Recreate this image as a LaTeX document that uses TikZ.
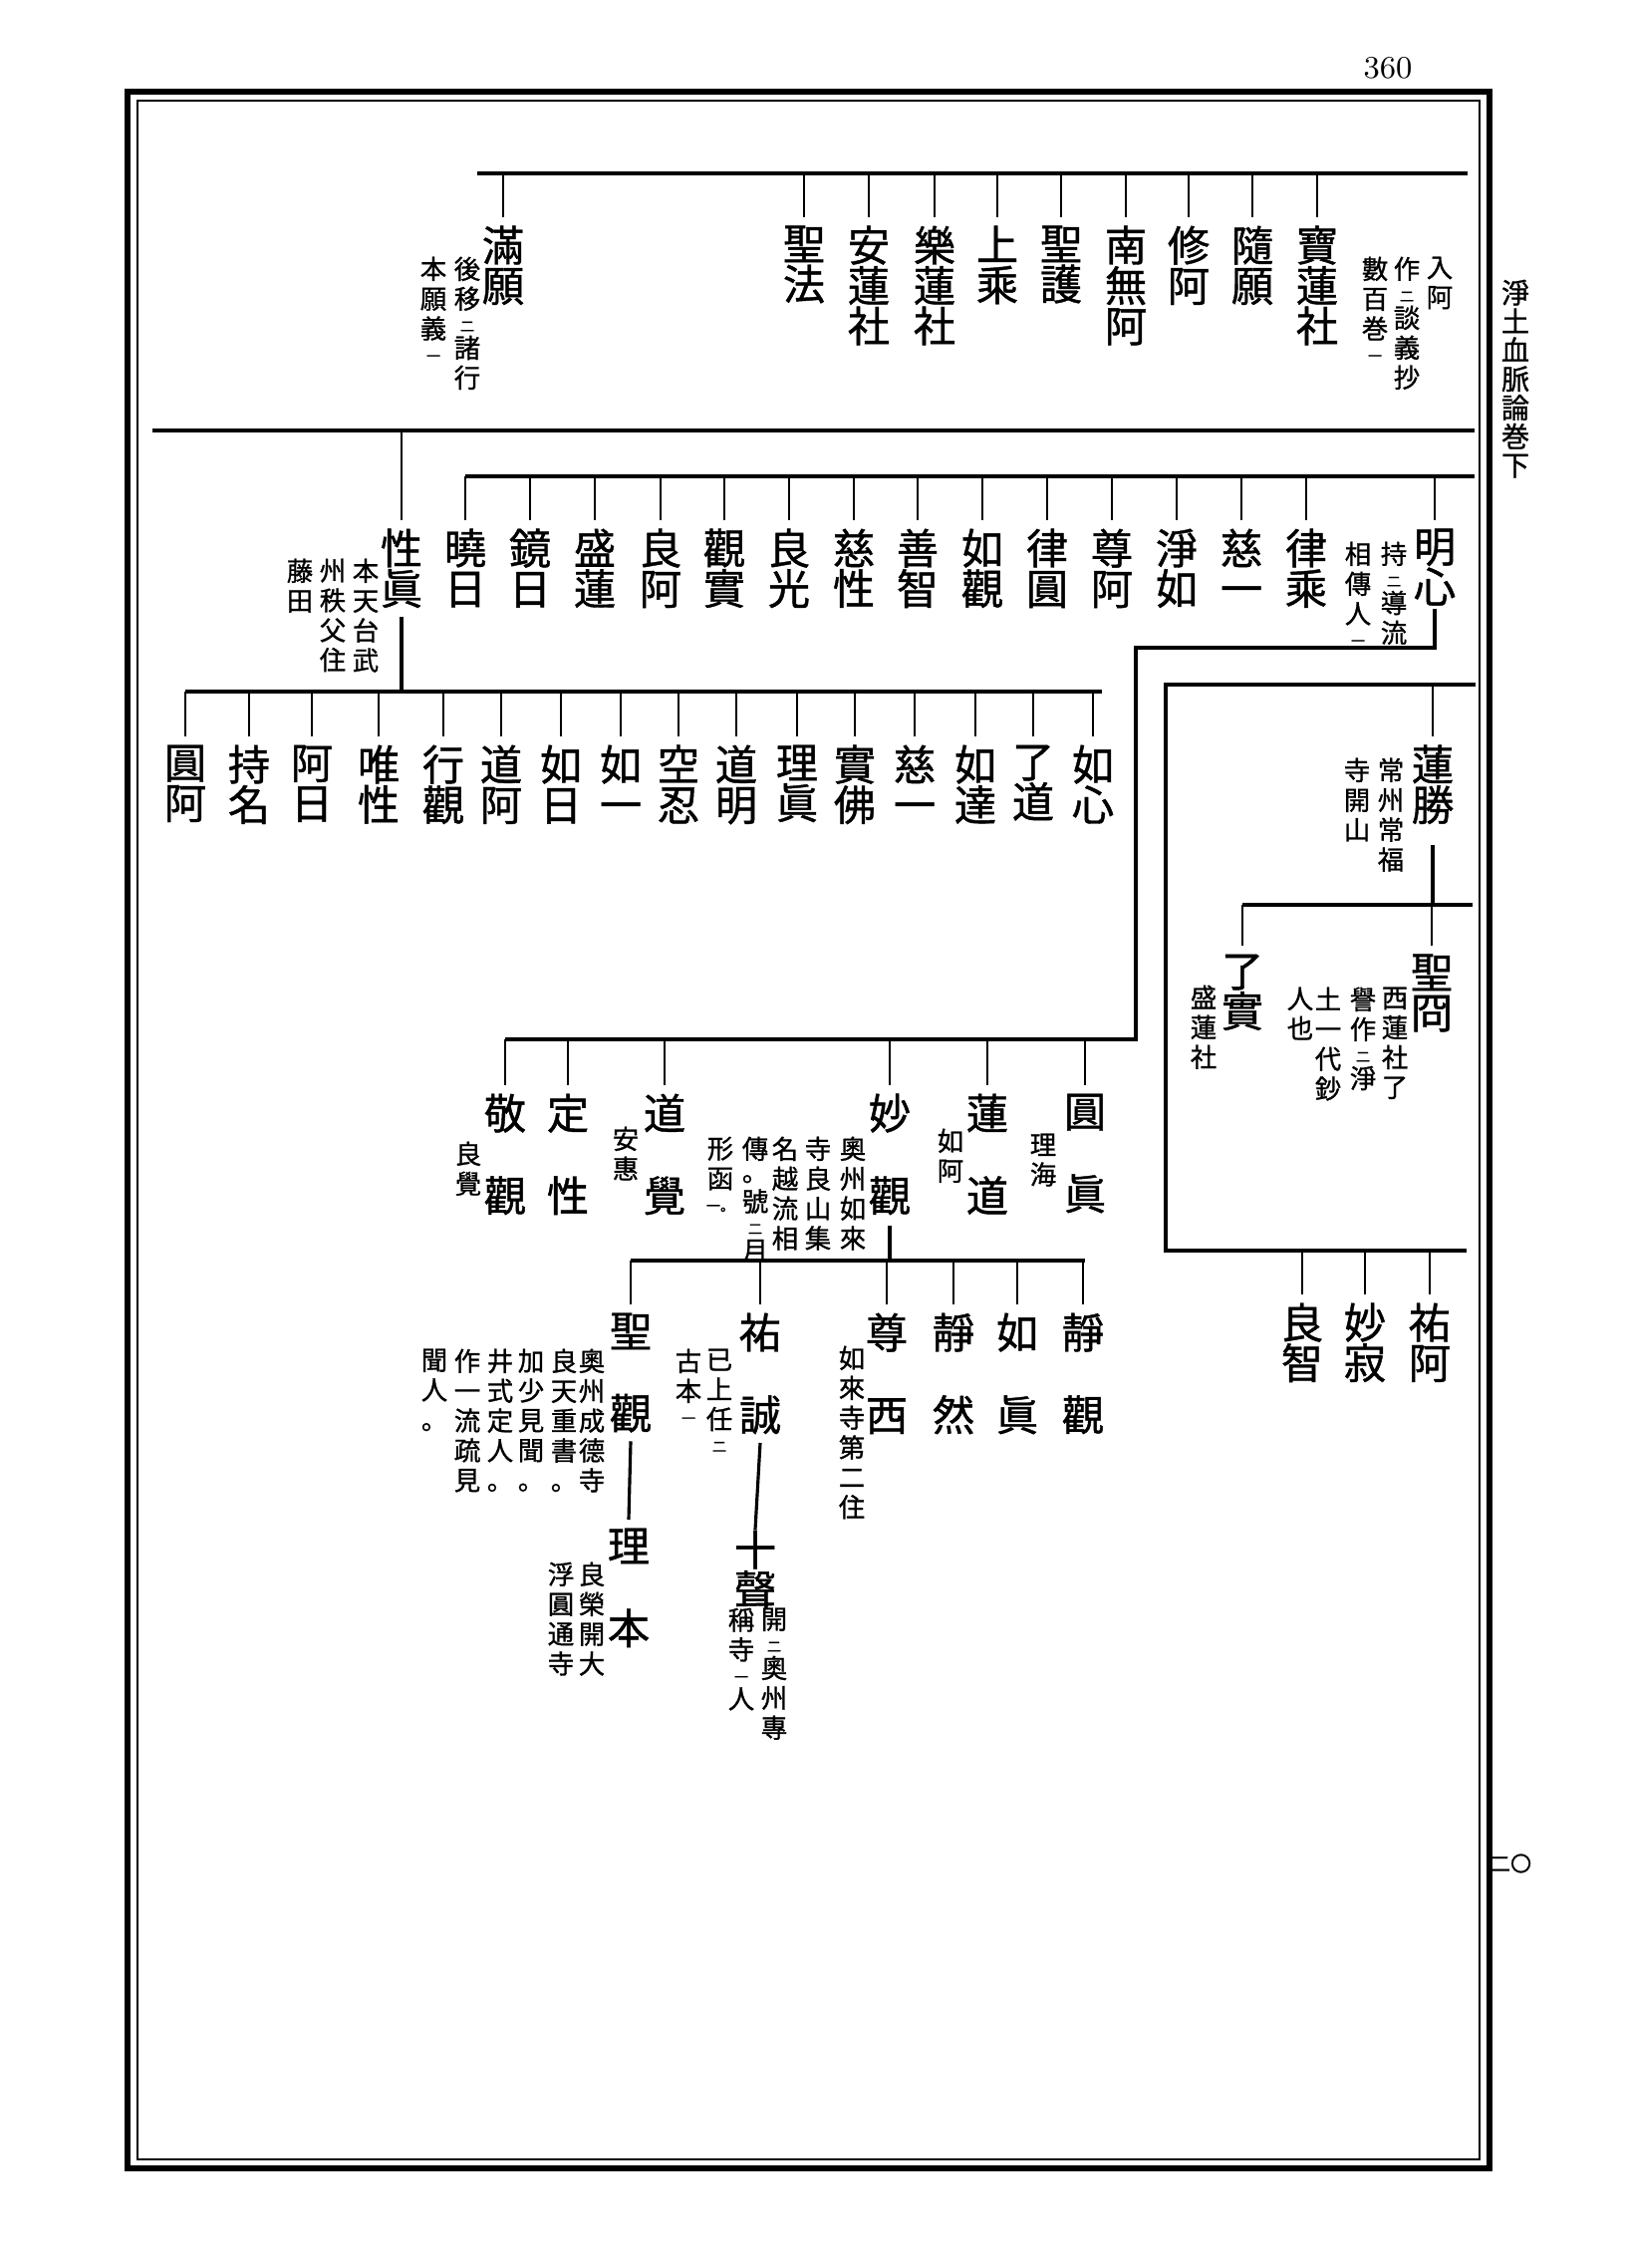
\documentclass[tikz,border=0pt]{standalone}
\usepackage{fontspec}
\usepackage{tikz}
\usetikzlibrary{positioning}
\newfontfamily\jp{Noto Sans CJK JP}[FakeBold=1]
\newcommand{\kt}[1]{{\fontsize{4}{4}\selectfont #1}}

\begin{document}
\begin{tikzpicture}[x=0.01cm, y=-0.01cm,
    nm/.style={font=\jp\fontsize{12}{11.5}\selectfont, align=center, inner sep=0pt, anchor=north},
    nt/.style={font=\jp\fontsize{7.5}{8.5}\selectfont, align=center, inner sep=0pt, anchor=north},
    ln/.style={line width=0.9pt},
    tk/.style={line width=0.7pt}]
\useasboundingbox (0,0) rectangle (1631,2276);
% frame and page marks
\draw[line width=1.5pt] (128,92) rectangle (1495,2176);
\draw[line width=0.5pt] (138,101) rectangle (1485,2167);
\node[inner sep=0pt, font=\fontsize{9}{9}\selectfont] (pg) at (1393,68) {360};
\node[nt, font=\jp\fontsize{8}{8.2}\selectfont] (ti) at (1521,280) {淨\\土\\血\\脈\\論\\巻\\下};
\node[inner sep=0pt, font=\jp\fontsize{6}{6}\selectfont] (no) at (1516,1870) {二〇};

\coordinate (L1) at (0,174);
\coordinate (L2) at (0,432);
\coordinate (L3) at (0,478);
\coordinate (L4) at (0,694);
\coordinate (L6) at (0,1043);
\coordinate (L7) at (0,908);
\coordinate (L8) at (0,1265);
\coordinate (M1) at (1140,650);
\coordinate (K1) at (1170,687);
\coordinate (K2) at (1170,1255);

% row 1
\node[nm] (a1) at (505,226) {滿\\願};
\node[nm] (a2) at (807,226) {聖\\法};
\node[nm] (a3) at (872,226) {安\\蓮\\社};
\node[nm] (a4) at (938,226) {樂\\蓮\\社};
\node[nm] (a5) at (1001,226) {上\\乘};
\node[nm] (a6) at (1065,226) {聖\\護};
\node[nm] (a7) at (1130,226) {南\\無\\阿};
\node[nm] (a8) at (1193,226) {修\\阿};
\node[nm] (a9) at (1257,226) {隨\\願};
\node[nm] (a10) at (1322,226) {寶\\蓮\\社};
\node[nt] (a1n1) at (469,257) {後\\移\\[-2pt]\kt{二}\\[-1pt]諸\\行};
\node[nt] (a1n2) at (435,257) {本\\願\\義\\[-2pt]\kt{一}};
\node[nt] (a10n1) at (1445,257) {入\\阿};
\node[nt] (a10n2) at (1412,257) {作\\[-2pt]\kt{二}\\[-1pt]談\\義\\抄};
\node[nt] (a10n3) at (1380,257) {數\\百\\巻\\[-2pt]\kt{一}};
\draw[ln] (479,174) -- (1473,174);
\foreach \n in {a1,a2,a3,a4,a5,a6,a7,a8,a9,a10}
  \draw[tk] (\n.north |- L1) -- ([yshift=0.08cm]\n.north);

% row 2
\draw[ln] (153,432) -- (1480,432);
\node[nm] (b0) at (403,530) {性\\眞};
\node[nt] (b0n1) at (367,560) {本\\天\\台\\武};
\node[nt] (b0n2) at (334,560) {州\\秩\\父\\住};
\node[nt] (b0n3) at (301,560) {藤\\田};
\draw[tk] (b0.north |- L2) -- ([yshift=0.08cm]b0.north);
\node[nm] (b1) at (467,530) {曉\\日};
\node[nm] (b2) at (532,530) {鏡\\日};
\node[nm] (b3) at (597,530) {盛\\蓮};
\node[nm] (b4) at (663,530) {良\\阿};
\node[nm] (b5) at (727,530) {觀\\實};
\node[nm] (b6) at (792,530) {良\\光};
\node[nm] (b7) at (857,530) {慈\\性};
\node[nm] (b8) at (921,530) {善\\智};
\node[nm] (b9) at (986,530) {如\\觀};
\node[nm] (b10) at (1051,530) {律\\圓};
\node[nm] (b11) at (1116,530) {尊\\阿};
\node[nm] (b12) at (1181,530) {淨\\如};
\node[nm] (b13) at (1246,530) {慈\\一};
\node[nm] (b14) at (1311,530) {律\\乘};
\node[nm] (b15) at (1440,530) {明\\心};
\node[nt] (b15n1) at (1399,543) {持\\[-2pt]\kt{二}\\[-1pt]導\\流};
\node[nt] (b15n2) at (1363,543) {相\\傳\\人\\[-2pt]\kt{一}};
\draw[ln] (b1.north |- L3) -- (1480,478);
\foreach \n in {b1,b2,b3,b4,b5,b6,b7,b8,b9,b10,b11,b12,b13,b14,b15}
  \draw[tk] (\n.north |- L3) -- ([yshift=0.08cm]\n.north);

% row 3
\node[nm] (c1) at (186,747) {圓\\阿};
\node[nm] (c2) at (250,747) {持\\名};
\node[nm] (c3) at (313,747) {阿\\日};
\node[nm] (c4) at (380,747) {唯\\性};
\node[nm] (c5) at (445,747) {行\\觀};
\node[nm] (c6) at (503,747) {道\\阿};
\node[nm] (c7) at (563,747) {如\\日};
\node[nm] (c8) at (623,747) {如\\一};
\node[nm] (c9) at (681,747) {空\\忍};
\node[nm] (c10) at (739,747) {道\\明};
\node[nm] (c11) at (800,747) {理\\眞};
\node[nm] (c12) at (858,747) {實\\佛};
\node[nm] (c13) at (918,747) {慈\\一};
\node[nm] (c14) at (979,747) {如\\達};
\node[nm] (c15) at (1037,747) {了\\道};
\node[nm] (c16) at (1097,747) {如\\心};
\draw[ln] ([yshift=-0.08cm]b0.south) -- (b0.south |- L4);
\draw[ln] (c1.north |- L4) -- (1106,694);
\foreach \n in {c1,c2,c3,c4,c5,c6,c7,c8,c9,c10,c11,c12,c13,c14,c15,c16}
  \draw[tk] (\n.north |- L4) -- ([yshift=0.08cm]\n.north);

% right bracket
\draw[ln] (1481,687) -- (K1) -- (K2) -- (1472,1255);
\node[nm] (f1) at (1438,747) {蓮\\勝};
\node[nt] (f1n1) at (1396,760) {常\\州\\常\\福};
\node[nt] (f1n2) at (1362,760) {寺\\開\\山};
\draw[tk] (f1.north |- K1) -- ([yshift=0.08cm]f1.north);
\node[nm] (g1) at (1437,957) {聖\\冏};
\node[nm] (g2) at (1247,957) {了\\實};
\node[nt] (g1n1) at (1400,990) {西\\蓮\\社\\了};
\node[nt] (g1n2) at (1368,990) {譽\\作\\[-2pt]\kt{二}\\[-1pt]淨};
\node[nt] (g1n3) at (1333,990) {土\\一\\代\\鈔};
\node[nt] (g1n4) at (1305,990) {人\\也};
\node[nt] (g2n1) at (1208,988) {盛\\蓮\\社};
\draw[ln] ([yshift=-0.2cm]f1.south) -- (f1.south |- L7);
\draw[ln] (g2.north |- L7) -- (1478,908);
\foreach \n in {g1,g2}
  \draw[tk] (\n.north |- L7) -- ([yshift=0.08cm]\n.north);
\node[nm] (h1) at (1307,1307) {良\\智};
\node[nm] (h2) at (1370,1307) {妙\\寂};
\node[nm] (h3) at (1435,1307) {祐\\阿};
\foreach \n in {h1,h2,h3}
  \draw[tk] (\n.north |- K2) -- ([yshift=0.08cm]\n.north);

% row 4
\node[nm] (d1) at (507,1097) {敬\\[12pt]觀};
\node[nm] (d2) at (570,1097) {定\\[12pt]性};
\node[nm] (d3) at (667,1097) {道\\[12pt]覺};
\node[nm] (d4) at (893,1097) {妙\\[12pt]觀};
\node[nm] (d5) at (991,1097) {蓮\\[12pt]道};
\node[nm] (d6) at (1089,1097) {圓\\[12pt]眞};
\node[nt] (d1n) at (470,1145) {良\\覺};
\node[nt] (d3n) at (628,1130) {安\\惠};
\node[nt] (d4n1) at (856,1140) {奧\\州\\如\\來};
\node[nt] (d4n2) at (821,1140) {寺\\良\\山\\集};
\node[nt] (d4n3) at (788,1140) {名\\越\\流\\相};
\node[nt] (d4n4) at (758,1140) {傳\\[-2pt]。\\號\\[-2pt]\kt{二}\\[-1pt]月};
\node[nt] (d4n5) at (723,1140) {形\\函\\[-2pt]\kt{一。}};
\node[nt] (d5n) at (954,1132) {如\\阿};
\node[nt] (d6n) at (1047,1137) {理\\海};
\draw[ln] ([yshift=-0.03cm]b15.south) |- (M1) -- (M1 |- L6) -- (d1.north |- L6);
\foreach \n in {d1,d2,d3,d4,d5,d6}
  \draw[tk] (\n.north |- L6) -- ([yshift=0.08cm]\n.north);

% row 5
\node[nm] (e1) at (633,1317) {聖\\[12pt]觀};
\node[nm] (e2) at (763,1317) {祐\\[12pt]誠};
\node[nm] (e3) at (890,1317) {尊\\[12pt]西};
\node[nm] (e4) at (957,1317) {靜\\[12pt]然};
\node[nm] (e5) at (1021,1317) {如\\[12pt]眞};
\node[nm] (e6) at (1087,1317) {靜\\[12pt]觀};
\node[nt] (e1n1) at (594,1353) {奧\\州\\成\\德\\寺};
\node[nt] (e1n2) at (566,1353) {良\\天\\重\\書\\。};
\node[nt] (e1n3) at (533,1353) {加\\少\\見\\聞\\。};
\node[nt] (e1n4) at (502,1353) {井\\式\\定\\人\\。};
\node[nt] (e1n5) at (469,1353) {作\\一\\流\\疏\\見};
\node[nt] (e1n6) at (436,1353) {聞\\人\\。};
\node[nt] (e2n1) at (722,1353) {已\\上\\任\\[-2pt]\kt{二}};
\node[nt] (e2n2) at (691,1353) {古\\本\\[-2pt]\kt{一}};
\node[nt] (e3n) at (855,1350) {如\\來\\寺\\第\\二\\住};
\draw[ln] ([yshift=-0.1cm]d4.south) -- (d4.south |- L8);
\draw[ln] (e1.north |- L8) -- (1089,1265);
\foreach \n in {e1,e2,e3,e4,e5,e6}
  \draw[tk] (\n.north |- L8) -- ([yshift=0.08cm]\n.north);

% below row 5
\node[nm] (p1) at (631,1533) {理\\[12pt]本};
\node[nt] (p1n1) at (594,1567) {良\\榮\\開\\大};
\node[nt] (p1n2) at (563,1567) {浮\\圓\\通\\寺};
\node[nm] (p2) at (758,1535) {十\\聲};
\node[nt] (p2n1) at (777,1613) {開\\[-2pt]\kt{二}\\[-1pt]奧\\州\\專};
\node[nt] (p2n2) at (744,1613) {稱\\寺\\[-2pt]\kt{一}\\[-1pt]人};
\draw[ln] ([yshift=-0.08cm]e1.south) -- ([yshift=0.08cm]p1.north);
\draw[ln] ([yshift=-0.08cm]e2.south) -- (p2.north);
\end{tikzpicture}
\end{document}
